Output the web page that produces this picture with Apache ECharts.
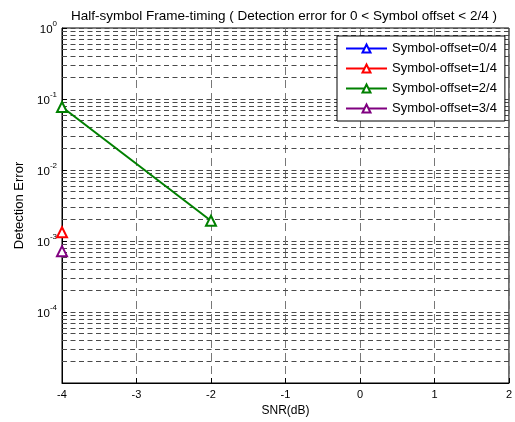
<!DOCTYPE html>
<html><head><meta charset="utf-8">
<script src="https://cdn.jsdelivr.net/npm/echarts@6/dist/echarts.min.js"></script>
<style>html,body{margin:0;padding:0;background:#fff}#c{width:515px;height:422px}</style>
</head><body><div id="c"></div>
<script>
const snr = [-4, -2];
const seriesNames = ['Symbol-offset=0/4','Symbol-offset=1/4','Symbol-offset=2/4','Symbol-offset=3/4'];
const off0 = [null, null];
const off1 = [0.00133, null];
const off2 = [0.077, 0.00193];
const off3 = [0.00072, null];
const colors = ['#0000ff','#ff0000','#008000','#800080'];
const xTicks = [-4,-3,-2,-1,0,1,2];
const decades = [1e-5,1e-4,1e-3,1e-2,1e-1];
const minorMult = [2,3,4,5,6,7,8,9];

const xMin = xTicks[0], xMax = xTicks[xTicks.length - 1];
const minorLines = [];
decades.forEach(d => minorMult.forEach(m => {
  const v = +(d * m).toPrecision(3);
  minorLines.push([{coord: [xMin, v]}, {coord: [xMax, v]}]);
}));

const font = 'Liberation Sans, Arial, sans-serif';
const chart = echarts.init(document.getElementById('c'));
const vals = [off0, off1, off2, off3];
const series = vals.map((arr, i) => ({
  name: seriesNames[i],
  type: 'line',
  data: snr.map((x, j) => [x, arr[j]]),
  symbol: 'emptyTriangle',
  symbolSize: 10,
  showAllSymbol: true,
  connectNulls: false,
  z: 3,
  lineStyle: {color: colors[i], width: 2},
  itemStyle: {color: colors[i], borderColor: colors[i], borderWidth: 1.6}
}));
series.push({
  type: 'line', data: [], silent: true, z: 1,
  markLine: {
    silent: true, symbol: 'none', label: {show: false},
    animation: false, z: 1,
    lineStyle: {color: '#4a4a4a', type: [5, 3.5], width: 1},
    data: minorLines
  }
});
chart.setOption({
  animation: false,
  backgroundColor: '#fff',
  title: {
    text: 'Half-symbol Frame-timing ( Detection error for 0 < Symbol offset < 2/4 )',
    left: 66, top: 4,
    textStyle: {fontFamily: font, fontSize: 13.5, fontWeight: 'normal', color: '#000'}
  },
  legend: {
    data: seriesNames,
    orient: 'vertical',
    left: 337, top: 36, z: 10,
    padding: [6, 8, 6, 8],
    itemGap: 7,
    itemWidth: 41, itemHeight: 10,
    backgroundColor: '#fff',
    borderColor: '#000', borderWidth: 1, borderRadius: 0,
    textStyle: {fontFamily: font, fontSize: 13, color: '#000'}
  },
  grid: {left: 62, right: 5, top: 28, bottom: 39, show: true, borderColor: '#000', borderWidth: 1},
  xAxis: {
    type: 'value', min: xMin, max: xMax, interval: 1,
    name: 'SNR(dB)', nameLocation: 'middle', nameGap: 22,
    nameTextStyle: {fontFamily: font, fontSize: 12, color: '#000'},
    axisLine: {onZero: false, lineStyle: {color: '#000'}},
    axisTick: {inside: true, length: 5, lineStyle: {color: '#000'}},
    axisLabel: {fontFamily: font, fontSize: 11, color: '#000', margin: 6},
    splitLine: {show: true, lineStyle: {color: '#777', type: [8, 5], width: 1}}
  },
  yAxis: {
    type: 'log', logBase: 10, min: 1e-5, max: 1,
    name: 'Detection Error', nameLocation: 'middle', nameGap: 36,
    nameTextStyle: {fontFamily: font, fontSize: 13, color: '#000'},
    axisLine: {onZero: false, lineStyle: {color: '#000'}},
    axisTick: {inside: true, length: 5, lineStyle: {color: '#000'}},
    axisLabel: {
      margin: 5, color: '#000',
      formatter: function (v) {
        const e = Math.round(Math.log10(v));
        if (e === -5) return '';
        return '{b|10}{s|' + e + '}';
      },
      rich: {
        b: {fontFamily: font, fontSize: 11.5, color: '#000', verticalAlign: 'bottom', lineHeight: 16},
        s: {fontFamily: font, fontSize: 8, color: '#000', verticalAlign: 'top', lineHeight: 16}
      }
    },
    splitLine: {show: true, lineStyle: {color: '#4a4a4a', type: [5, 3.5], width: 1}}
  },
  series: series
});
</script></body></html>
